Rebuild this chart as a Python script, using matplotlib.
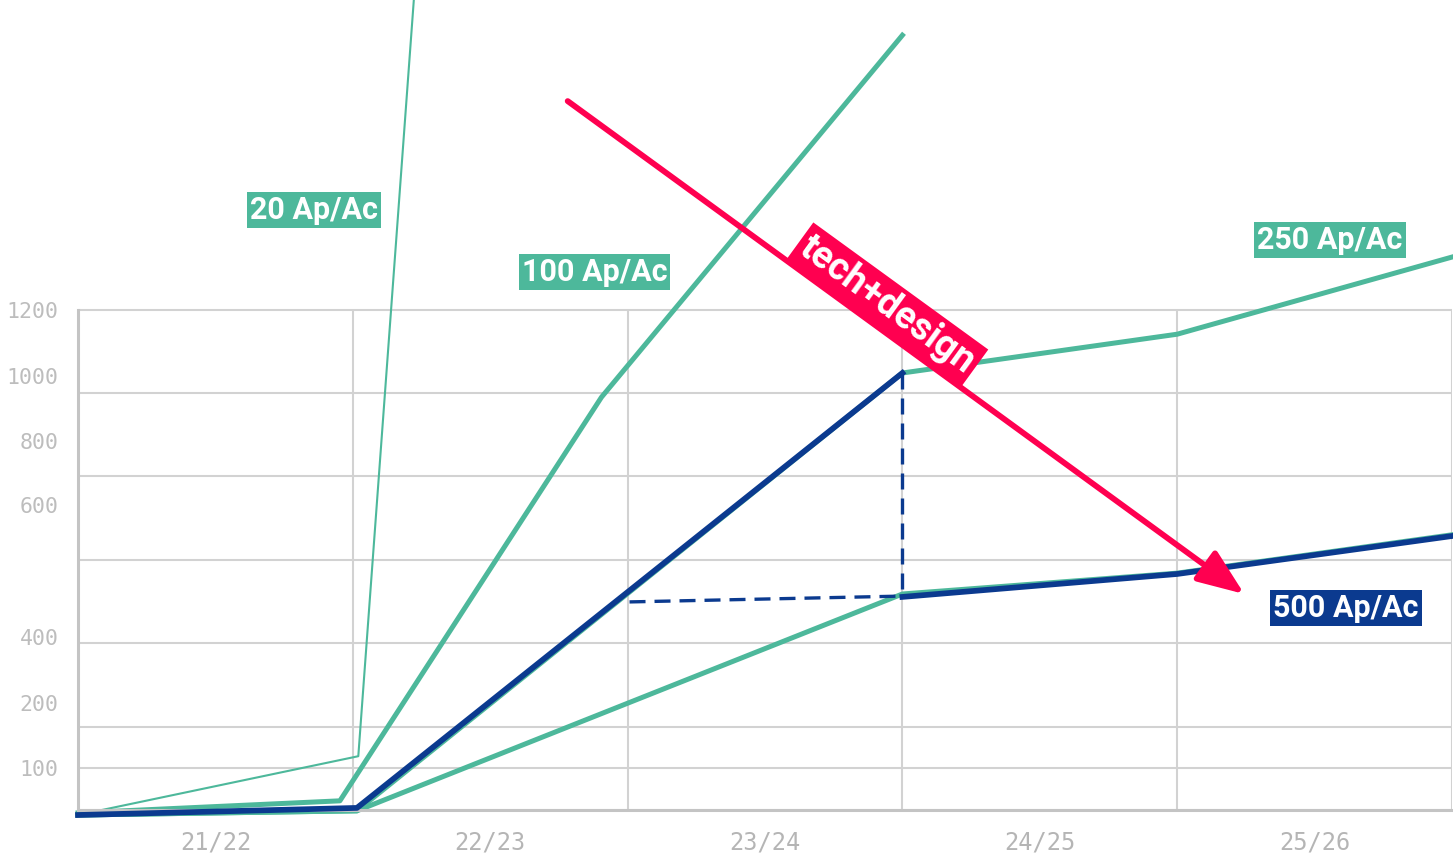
import matplotlib.pyplot as plt

# season labels on the x axis, one per column
seasons = ["21/22", "22/23", "23/24", "24/25", "25/26"]

# y axis: label text and where it sits (the labels do not sit on the grid lines)
ytick_labels = ["100", "200", "400", "600", "800", "1000", "1200"]
ytick_pos = [101, 257, 415, 731, 885, 1041, 1199]
grid_levels = [0, 100, 200, 400, 600, 800, 1000, 1200]

# green scenarios
ap20_x = [0.0, 1.02, 1.222]
ap20_y = [-12, 129, 1942]
ap100_x = [0.0, 0.953, 1.905, 3.0]
ap100_y = [-7, 22, 990, 1858]
ap250_x = [0.0, 1.015, 3.0, 4.0, 5.0]
ap250_y = [-12, -2, 1048, 1141, 1326]
ap500g_x = [0.0, 1.015, 3.0, 4.0, 5.0]
ap500g_y = [-12, -2, 518, 568, 660]

# blue path
blue_x = [0.0, 1.015, 3.0]
blue_y = [-12, 5, 1048]
blue2_x = [3.0, 4.0, 5.0]
blue2_y = [511, 566, 657]
drop_x = [3.0, 3.0]
drop_y = [1048, 511]
level_x = [2.007, 3.0]
level_y = [499, 513]

green = "#4db89b"
blue = "#0b3a8f"
red = "#ff0050"
gridc = "#d2d2d2"

fig = plt.figure(figsize=(14.53, 8.56), dpi=100)
ax = fig.add_axes([78 / 1453, 46 / 856, 1374 / 1453, 810 / 856])
ax.set_xlim(0, 5)
ax.set_ylim(0, 810 * 200 / 83.4)

# grid
for lv in grid_levels:
    ax.axhline(lv, color=gridc, lw=1.5, zorder=0)
ax.vlines([1, 2, 3, 4, 5], 0, 1200, color=gridc, lw=1.5, zorder=0)
for s in ["top", "right"]:
    ax.spines[s].set_visible(False)
ax.spines["left"].set_bounds(0, 1200)
ax.spines["left"].set_color("#c4c4c4")
ax.spines["left"].set_linewidth(2.2)
ax.spines["bottom"].set_color("#c4c4c4")
ax.spines["bottom"].set_linewidth(2.2)

ax.set_yticks(ytick_pos)
ax.set_yticklabels(ytick_labels)
ax.set_xticks([0.5, 1.5, 2.5, 3.5, 4.5])
ax.set_xticklabels(seasons)
ax.tick_params(axis="y", length=0, pad=14, labelsize=15.5, labelcolor="#bdbdbd")
ax.tick_params(axis="x", length=0, pad=15, labelsize=17, labelcolor="#b5b5b5")
for t in ax.get_xticklabels() + ax.get_yticklabels():
    t.set_family("DejaVu Sans Mono")

# lines
ax.plot(ap20_x, ap20_y, color=green, lw=1.5, clip_on=False, zorder=2)
ax.plot(ap100_x, ap100_y, color=green, lw=3.6, clip_on=False, zorder=2)
ax.plot(ap250_x, ap250_y, color=green, lw=3.6, clip_on=False, zorder=2)
ax.plot(ap500g_x, ap500g_y, color=green, lw=3.6, clip_on=False, zorder=2)
ax.plot(blue_x, blue_y, color=blue, lw=4.1, clip_on=False, zorder=3)
ax.plot(blue2_x, blue2_y, color=blue, lw=4.1, clip_on=False, zorder=3)
ax.plot(drop_x, drop_y, color=blue, lw=2.4, ls=(0, (4.8, 2.7)), zorder=3)
ax.plot(level_x, level_y, color=blue, lw=2.4, ls=(0, (4.8, 2.7)), zorder=3)

# red arrow
ax.annotate("", xy=(4.244, 518), xytext=(1.782, 1700),
            arrowprops=dict(arrowstyle="-|>,head_length=1.9,head_width=0.75",
                            mutation_scale=15, lw=4.2, color=red,
                            shrinkA=0, shrinkB=0),
            annotation_clip=False, zorder=4)
ax.text(2.945, 1212, "tech+design", rotation=-36, rotation_mode="anchor",
        ha="center", va="center", fontsize=27, fontweight="bold",
        family="Roboto", color="white", zorder=5,
        bbox=dict(boxstyle="square,pad=0.12", fc=red, ec="none"))

# series labels
labels = [("20 Ap/Ac", 0.858, 1439, green),
          ("100 Ap/Ac", 1.88, 1290, green),
          ("250 Ap/Ac", 4.556, 1367, green),
          ("500 Ap/Ac", 4.615, 484, blue)]
for txt, x, y, c in labels:
    ax.text(x, y, txt, ha="center", va="center", fontsize=22,
            fontweight="bold", family="Roboto", color="white", zorder=6,
            bbox=dict(boxstyle="square,pad=0.1", fc=c, ec="none"))

fig.savefig("out.png", dpi=100)
